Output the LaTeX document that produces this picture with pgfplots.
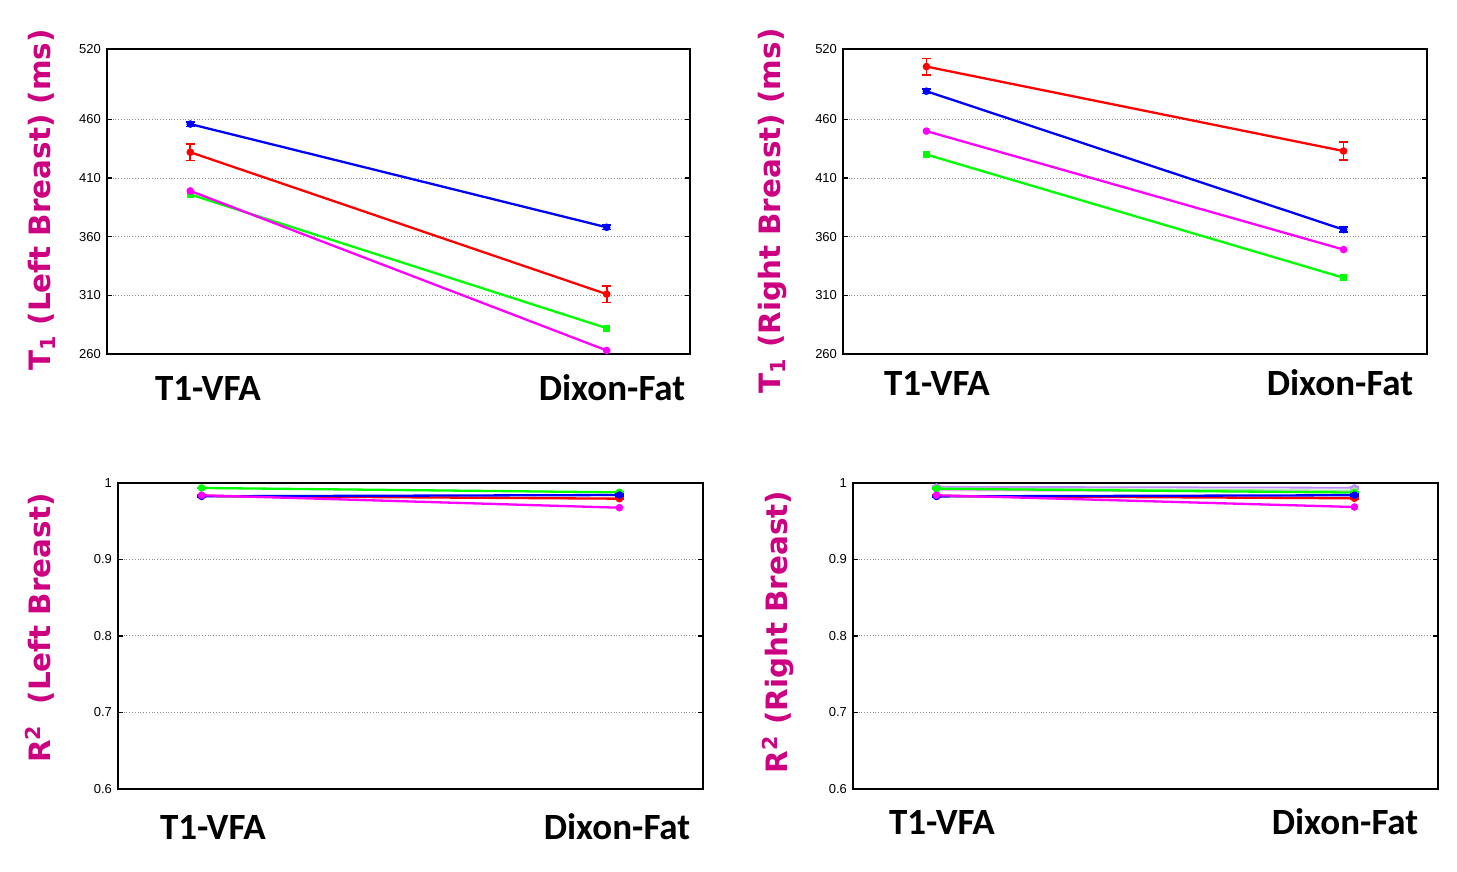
\documentclass[border=0pt]{standalone}
\usepackage{fontspec}
\setmainfont{Liberation Sans}
\newfontfamily\labfont{DejaVu Sans}
\newfontfamily\catfont{Carlito}
\usepackage{pgfplots}
\pgfplotsset{compat=1.18}
\definecolor{lbl}{RGB}{204,0,128}
\definecolor{mag}{RGB}{255,0,255}
\definecolor{grn}{RGB}{0,255,0}
\definecolor{blu}{RGB}{0,0,255}
\definecolor{rd}{RGB}{255,0,0}
\definecolor{lav}{RGB}{190,140,255}
\definecolor{lgreen}{RGB}{150,240,150}
\definecolor{lpink}{RGB}{255,170,255}
\pgfplotsset{
  myax/.style={
    scale only axis, xmin=0.8, xmax=2.2, xtick=\empty,
    axis line style={line width=0.9pt},
    ytick pos=both, yticklabel pos=left, tick align=inside,
    major tick length=2.5pt, tick style={line width=0.7pt, black},
    ymajorgrids, major grid style={densely dotted, gray!90, line width=0.5pt},
    yticklabel style={font=\fontsize{6.5}{7}\selectfont, xshift=0.5pt},
    /pgf/number format/assume math mode=true,
    clip=false,
  },
  ln/.style={line width=1.15pt, mark=*, mark size=1.3pt, mark options={solid}},
  eb/.style={/pgfplots/error bars/y dir=both, /pgfplots/error bars/y explicit,
    /pgfplots/error bars/error bar style={line width=0.85pt},
    /pgfplots/error bars/error mark options={rotate=90, line width=0.85pt, mark size=2.2pt}},
}
\begin{document}
\begin{tikzpicture}
\useasboundingbox (0,0) rectangle (728.5pt,436pt);

% ---------- top left ----------
\begin{axis}[myax, at={(53.5pt,259pt)}, anchor=south west,
  width=291.5pt, height=152.5pt, ymin=260, ymax=520,
  ytick={260,310,360,410,460,520}]
\addplot[ln, blu, eb] coordinates {(1,456) +- (0,2) (2,368) +- (0,2)};
\addplot[ln, rd, eb] coordinates {(1,432) +- (0,7) (2,311) +- (0,7)};
\addplot[ln, grn, mark=square*, mark size=1.1pt] coordinates {(1,396) (2,282)};
\addplot[ln, mag] coordinates {(1,399) (2,263)};
\end{axis}

% ---------- top right ----------
\begin{axis}[myax, at={(421.5pt,259pt)}, anchor=south west,
  width=292pt, height=152.5pt, ymin=260, ymax=520,
  ytick={260,310,360,410,460,520}]
\addplot[ln, rd, eb] coordinates {(1,505) +- (0,7) (2,433) +- (0,7.5)};
\addplot[ln, blu, eb] coordinates {(1,484) +- (0,2) (2,366) +- (0,2)};
\addplot[ln, mag] coordinates {(1,450) (2,349)};
\addplot[ln, grn, mark=square*, mark size=1.1pt] coordinates {(1,430) (2,325)};
\end{axis}

% ---------- bottom left ----------
\begin{axis}[myax, at={(59pt,41.5pt)}, anchor=south west,
  width=292.5pt, height=153pt, ymin=0.6, ymax=1,
  ytick={0.6,0.7,0.8,0.9,1}, yticklabels={0.6,0.7,0.8,0.9,1}]
\addplot[ln, grn, eb] coordinates {(1,0.9935) +- (0,0.0008) (2,0.9878) +- (0,0.0008)};
\addplot[ln, rd, eb] coordinates {(1,0.9830) +- (0,0.0010) (2,0.9795) +- (0,0.0010)};
\addplot[ln, blu, eb] coordinates {(1,0.9826) +- (0,0.0010) (2,0.9843) +- (0,0.0010)};
\addplot[ln, mag] coordinates {(1,0.9840) (2,0.9677)};
\end{axis}

% ---------- bottom right ----------
\begin{axis}[myax, at={(426.5pt,41.5pt)}, anchor=south west,
  width=292.5pt, height=153pt, ymin=0.6, ymax=1,
  ytick={0.6,0.7,0.8,0.9,1}, yticklabels={0.6,0.7,0.8,0.9,1}]
\addplot[ln, lav, line width=0.9pt, eb] coordinates {(1,0.9950) +- (0,0.0012) (2,0.9938) +- (0,0.0012)};
\addplot[ln, lgreen, line width=0.9pt] coordinates {(1,0.9930) (2,0.9900)};
\addplot[ln, lpink, line width=0.9pt] coordinates {(1,0.9905) (2,0.9885)};
\addplot[ln, grn, eb] coordinates {(1,0.9925) +- (0,0.0010) (2,0.9875) +- (0,0.0010)};
\addplot[ln, rd, eb] coordinates {(1,0.9830) +- (0,0.0012) (2,0.9800) +- (0,0.0012)};
\addplot[ln, blu, eb] coordinates {(1,0.9825) +- (0,0.0012) (2,0.9840) +- (0,0.0012)};
\addplot[ln, mag] coordinates {(1,0.9840) (2,0.9686)};
\end{axis}

% ---------- category labels ----------
\begin{scope}[every node/.style={font=\catfont\bfseries\fontsize{18.5}{20}\selectfont, anchor=base, inner sep=0pt}]
\node at (104pt,235.5pt) {T1-VFA};
\node at (306pt,235.5pt) {Dixon-Fat};
\node at (468.5pt,238pt) {T1-VFA};
\node at (670pt,238pt) {Dixon-Fat};
\node at (106.5pt,16pt) {T1-VFA};
\node at (308.5pt,16pt) {Dixon-Fat};
\node at (471pt,18.5pt) {T1-VFA};
\node at (672.5pt,18.5pt) {Dixon-Fat};
\end{scope}

% ---------- y labels ----------
\begin{scope}[every node/.style={font=\labfont\bfseries\fontsize{14.7}{16}\selectfont, text=lbl, rotate=90, anchor=center, inner sep=0pt}]
\node at (21pt,336pt) {T\textsubscript{1} (Left Breast) (ms)};
\node at (386pt,330.5pt) {T\textsubscript{1} (Right Breast) (ms)};
\node at (20pt,122pt) {R\textsuperscript{2}\ \ (Left Breast)};
\node at (389pt,120pt) {R\textsuperscript{2} (Right Breast)};
\end{scope}
\end{tikzpicture}
\end{document}
